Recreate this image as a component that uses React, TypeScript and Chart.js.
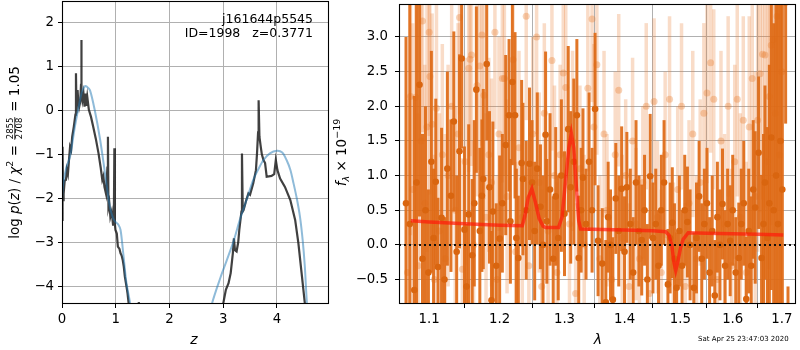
import React, { useEffect, useRef } from "react";
import { Chart, registerables } from "chart.js";
Chart.register(...registerables);

const FONT = '"DejaVu Sans", sans-serif';

// ---------- Left panel: log p(z) ----------
const pzZ = [
  0.0, 0.01, 0.02, 0.03, 0.05, 0.074, 0.09, 0.11, 0.13, 0.15,
  0.17, 0.19, 0.22, 0.25, 0.26, 0.27, 0.29, 0.30, 0.32, 0.34,
  0.355, 0.36, 0.365, 0.38, 0.40, 0.42, 0.44, 0.45, 0.47, 0.50,
  0.54, 0.58, 0.63, 0.68, 0.72, 0.75, 0.77, 0.79, 0.82, 0.845,
  0.855, 0.865, 0.88, 0.90, 0.925, 0.95, 0.965, 0.975, 0.985, 0.995,
  1.02, 1.04, 1.07, 1.09, 1.11, 1.13, 1.15, 1.17, 1.20, 1.22,
  1.24, 1.28, 1.40, 1.43, 1.46, 1.70, 2.50, 2.95, 3.00, 3.05,
  3.10, 3.14, 3.18, 3.20, 3.22, 3.25, 3.28, 3.30, 3.34, 3.35,
  3.365, 3.38, 3.43, 3.47, 3.50, 3.56, 3.61, 3.63, 3.65, 3.66,
  3.675, 3.70, 3.72, 3.75, 3.78, 3.81, 3.90, 3.95, 3.98, 4.01,
  4.06, 4.15, 4.25, 4.34, 4.40, 4.46, 4.52, 4.56, 4.97,
];
const pzLogP = [
  -2.49, -0.83, -2.04, -1.9, -1.6, -1.58, -1.35, -1.45, -1.13, -0.83,
  -0.9, -0.6, -0.37, -0.1, 0.84, -0.07, 0.46, 0.25, 0.08, 0.2,
  0.6, 1.6, 0.4, 0.23, 0.38, 0.08, 0.38, 0.1, 0.31, 0.01,
  -0.15, -0.37, -0.65, -0.98, -1.3, -1.58, -1.5, -1.74, -1.9, -1.3,
  -0.6, -2.19, -2.1, -2.42, -2.3, -2.6, -2.5, -0.86, -2.6, -2.72,
  -2.8, -3.1, -3.15, -3.25, -3.3, -3.4, -3.55, -3.78, -4.0, -4.16,
  -4.38, -5.0, -4.9, -4.36, -4.9, -6.5, -8.0, -5.0, -4.4, -4.08,
  -3.93, -3.7, -3.25, -2.91, -3.18, -3.21, -3.0, -2.72, -2.3, -0.98,
  -2.3, -2.27, -2.04, -1.89, -1.92, -1.66, -1.36, -0.98, -0.5, 0.23,
  -0.6, -0.83, -1.0, -1.13, -1.2, -1.51, -1.49, -1.45, -1.13, -1.36,
  -1.55, -1.74, -2.04, -2.49, -3.02, -3.7, -4.38, -4.9, -8.0,
];
const pzFitZ = [
  0.0, 0.02, 0.08, 0.15, 0.24, 0.335, 0.38, 0.43, 0.46, 0.52,
  0.61, 0.71, 0.80, 0.89, 0.95, 0.99, 1.05, 1.09, 1.14, 1.20,
  1.27, 1.35, 2.0, 2.6, 2.79, 2.95, 3.07, 3.2, 3.31, 3.44,
  3.56, 3.65, 3.75, 3.87, 4.0, 4.1, 4.18, 4.25, 4.31, 4.37,
  4.43, 4.48, 4.52, 4.56, 4.62, 4.97,
];
const pzFitLogP = [
  -2.0, -1.7, -1.3, -1.05, -0.37, 0.23, 0.45, 0.55, 0.54, 0.46,
  0.0, -0.67, -1.43, -2.19, -2.45, -2.53, -2.6, -2.72, -3.25, -3.93,
  -4.4, -5.2, -8.0, -5.4, -4.4, -3.8, -3.4, -2.95, -2.49, -2.02,
  -1.58, -1.35, -1.13, -0.98, -0.92, -0.96, -1.13, -1.35, -1.66, -2.0,
  -2.42, -2.95, -3.55, -4.4, -5.2, -8.0,
];
const zTicks = [0, 1, 2, 3, 4];
const logpTicks = [-4, -3, -2, -1, 0, 1, 2];
const zRange = [0, 4.97];
const logpRange = [-4.402, 2.484];

// ---------- Right panel: spectrum ----------
const specWave = [
  1.069, 1.074, 1.080, 1.083, 1.087, 1.091, 1.095, 1.099, 1.103, 1.106,
  1.109, 1.112, 1.117, 1.121, 1.125, 1.130, 1.134, 1.138, 1.142, 1.145,
  1.149, 1.152, 1.155, 1.160, 1.163, 1.166, 1.171, 1.174, 1.176, 1.181,
  1.185, 1.188, 1.190, 1.195, 1.200, 1.204, 1.209, 1.214, 1.216, 1.219,
  1.223, 1.225, 1.228, 1.233, 1.235, 1.240, 1.245, 1.249, 1.253, 1.257,
  1.262, 1.266, 1.270, 1.272, 1.277, 1.282, 1.286, 1.290, 1.295, 1.300,
  1.306, 1.310, 1.315, 1.320, 1.323, 1.327, 1.330, 1.335, 1.340, 1.345,
  1.350, 1.355, 1.362, 1.368, 1.372, 1.376, 1.380, 1.385, 1.390, 1.395,
  1.400, 1.404, 1.410, 1.415, 1.420, 1.425, 1.430, 1.435, 1.440, 1.445,
  1.450, 1.455, 1.460, 1.465, 1.470, 1.477, 1.481, 1.485, 1.489, 1.493,
  1.498, 1.503, 1.508, 1.513, 1.518, 1.525, 1.530, 1.535, 1.540, 1.545,
  1.550, 1.555, 1.560, 1.565, 1.570, 1.575, 1.580, 1.585, 1.590, 1.595,
  1.600, 1.606, 1.612, 1.617, 1.622, 1.627, 1.632, 1.637, 1.641, 1.645,
  1.652, 1.658, 1.662, 1.665, 1.670, 1.674, 1.678, 1.683, 1.688, 1.692,
  1.697, 1.701, 1.708, 1.713,
];
const specFlux = [
  0.6, 0.3, -0.65, 0.9, 2.31, -0.2, 0.5, -0.4, 1.2, 0.1,
  0.91, -0.32, 0.39, -0.5, 1.1, 0.71, 1.78, -0.1, 1.35, 2.69,
  0.22, -0.6, 0.44, -0.15, 0.6, 2.24, 0.2, 0.71, 0.95, 2.61,
  0.83, -0.8, 0.48, -0.3, 0.09, 0.6, 1.44, 1.87, 0.34, 2.35,
  1.87, 0.1, -0.19, 1.18, 0.95, 0.5, 1.17, 0.9, 0.2, 1.1,
  0.55, 0.0, 1.59, 0.34, 0.8, -0.2, 0.7, 0.1, 1.0, 0.45,
  1.67, 0.83, 1.2, 1.87, -0.19, 0.5, 0.97, 0.3, 1.2, 0.5,
  1.96, 0.06, -0.27, -0.83, 0.4, 0.0, -0.79, 0.67, 0.2, 0.81,
  -0.1, 0.83, 0.3, -0.4, 0.9, 0.2, 0.07, 0.5, -0.5, 0.99,
  0.1, 0.3, -0.3, 0.5, 0.9, -0.57, 0.1, 0.32, -0.2, -0.62,
  0.2, -0.3, 0.5, 0.33, 0.0, -0.62, 0.1, 0.7, -0.2, 0.3,
  0.6, -0.4, 0.2, -0.73, 0.4, 0.0, 0.59, -0.3, 0.3, 0.06,
  0.5, -0.4, -0.19, 0.3, 0.6, -0.78, 0.2, -0.3, 0.8, 0.54,
  1.33, -0.19, 0.3, 0.9, 0.1, 0.6, 1.55, 0.5, 1.0, 0.3,
  1.5, 0.8, 3.5, -1.5,
];
const specErr = [
  2.4, 3.3, 2.8, 3.2, 1.9, 1.8, 1.5, 1.2, 1.6, 1.0,
  1.2, 1.0, 1.3, 0.9, 1.4, 1.1, 1.3, 1.1, 1.4, 1.3,
  1.2, 0.9, 1.3, 1.1, 1.2, 1.2, 1.2, 1.1, 1.3, 1.1,
  1.1, 1.0, 1.3, 0.9, 1.2, 1.0, 1.3, 1.1, 0.9, 1.2,
  1.2, 1.0, 0.9, 1.2, 1.1, 1.0, 1.1, 0.9, 1.0, 1.1,
  0.9, 1.0, 1.2, 0.9, 1.1, 0.9, 1.0, 0.9, 1.1, 0.9,
  1.2, 1.1, 1.2, 1.1, 0.9, 0.9, 1.0, 0.8, 1.0, 0.9,
  1.1, 0.8, 0.8, 0.9, 0.8, 0.8, 0.9, 0.8, 0.8, 0.9,
  0.8, 0.8, 0.8, 0.8, 0.9, 0.8, 0.8, 0.8, 0.8, 0.9,
  0.8, 0.8, 0.8, 0.8, 0.9, 0.8, 0.8, 0.8, 0.8, 0.8,
  0.8, 0.8, 0.8, 0.8, 0.8, 0.8, 0.8, 0.8, 0.8, 0.8,
  0.8, 0.8, 0.8, 0.8, 0.8, 0.8, 0.8, 0.8, 0.8, 0.8,
  0.8, 0.8, 0.8, 0.8, 0.9, 0.9, 0.9, 1.0, 1.0, 1.1,
  1.1, 1.2, 1.3, 1.4, 1.6, 2.0, 2.2, 2.7, 3.2, 3.7,
  3.7, 3.7, 1.75, 0.9,
];
const altWave = [
  1.071, 1.075, 1.078, 1.082, 1.085, 1.089, 1.091, 1.094, 1.097, 1.100,
  1.101, 1.104, 1.107, 1.110, 1.114, 1.118, 1.122, 1.126, 1.131, 1.136,
  1.140, 1.142, 1.146, 1.150, 1.155, 1.157, 1.159, 1.162, 1.167, 1.171,
  1.174, 1.177, 1.180, 1.184, 1.188, 1.193, 1.196, 1.199, 1.204, 1.207,
  1.211, 1.220, 1.224, 1.229, 1.234, 1.240, 1.244, 1.250, 1.256, 1.260,
  1.264, 1.268, 1.274, 1.280, 1.284, 1.288, 1.293, 1.298, 1.302, 1.308,
  1.313, 1.318, 1.325, 1.332, 1.338, 1.345, 1.348, 1.353, 1.358, 1.365,
  1.370, 1.378, 1.384, 1.390, 1.396, 1.402, 1.408, 1.414, 1.420, 1.426,
  1.432, 1.438, 1.444, 1.452, 1.458, 1.465, 1.472, 1.480, 1.487, 1.495,
  1.502, 1.509, 1.516, 1.523, 1.530, 1.537, 1.544, 1.550, 1.557, 1.563,
  1.570, 1.577, 1.584, 1.591, 1.598, 1.604, 1.609, 1.615, 1.621, 1.627,
  1.633, 1.639, 1.645, 1.650, 1.655, 1.660, 1.665, 1.670, 1.674, 1.678,
  1.682, 1.686, 1.690, 1.695, 1.700,
];
const altFlux = [
  -0.4, 2.14, 0.8, 2.13, -0.3, 1.5, 3.23, 0.6, 1.7, 3.07,
  2.43, 1.74, -0.5, 1.97, 0.2, 1.3, -0.2, 1.0, 2.0, 0.5,
  1.6, 3.28, -0.35, 1.2, 2.55, 2.68, 2.74, 0.0, 2.3, 2.58,
  3.03, 2.16, 0.4, 1.3, 0.9, 3.07, -0.5, 1.6, 2.4, 2.4,
  0.7, 2.67, -0.1, 1.4, 0.4, 3.3, -0.3, 1.6, 3.0, 0.9,
  -0.6, 1.9, 0.2, 2.66, 1.0, -0.4, 1.3, 2.48, 2.27, 0.3,
  1.5, -0.7, 1.1, 0.0, 2.26, 3.26, 1.7, 2.6, -0.2, 1.6,
  0.5, -0.5, 1.3, 2.23, 0.1, 1.0, -0.6, 1.5, 0.3, -0.2,
  0.9, 2.0, -0.7, 2.07, 0.4, -0.4, 1.3, 2.1, -0.3, 0.8,
  2.0, -0.6, 0.6, 1.6, -0.2, 0.9, 1.9, 2.19, 2.63, 2.1,
  -0.5, 1.5, 0.3, 2.0, -0.3, 1.2, 2.1, 0.4, 1.8, -0.4,
  1.7, 2.4, 0.7, 1.8, 2.47, 2.75, 2.74, 1.2, 2.14, 2.88,
  2.96, 1.9, 3.3, 1.3, 2.5,
];
const altErr = [
  2.5, 2.0, 2.4, 1.8, 2.2, 2.0, 1.6, 2.0, 1.8, 1.5,
  1.7, 1.6, 1.8, 1.6, 1.7, 1.6, 1.8, 1.6, 1.7, 1.5,
  1.6, 1.4, 1.6, 1.5, 1.5, 1.4, 1.6, 1.5, 1.6, 1.5,
  1.6, 1.5, 1.5, 1.4, 1.5, 1.4, 1.5, 1.4, 1.5, 1.4,
  1.4, 1.5, 1.3, 1.4, 1.4, 1.5, 1.4, 1.4, 1.4, 1.3,
  1.4, 1.3, 1.4, 1.3, 1.3, 1.3, 1.3, 1.2, 1.3, 1.2,
  1.3, 1.3, 1.2, 1.3, 1.2, 1.2, 1.2, 1.3, 1.2, 1.2,
  1.1, 1.2, 1.2, 1.1, 1.2, 1.1, 1.2, 1.2, 1.1, 1.2,
  1.1, 1.2, 1.2, 1.2, 1.1, 1.2, 1.2, 1.2, 1.2, 1.2,
  1.2, 1.2, 1.2, 1.2, 1.2, 1.2, 1.3, 1.3, 1.3, 1.3,
  1.3, 1.3, 1.3, 1.3, 1.4, 1.4, 1.4, 1.5, 1.5, 1.6,
  1.6, 1.7, 1.8, 1.9, 2.0, 2.1, 2.2, 2.4, 2.5, 2.6,
  2.8, 3.0, 3.2, 3.3, 3.5,
];
const modelWave = [
  1.0755, 1.100, 1.150, 1.200, 1.234, 1.238, 1.243, 1.2487, 1.254, 1.260,
  1.266, 1.270, 1.2905, 1.296, 1.302, 1.307, 1.311, 1.315, 1.319, 1.323,
  1.326, 1.345, 1.400, 1.450, 1.473, 1.479, 1.484, 1.488, 1.4913, 1.495,
  1.500, 1.505, 1.5145, 1.550, 1.600, 1.650, 1.703,
];
const modelFlux = [
  0.347, 0.33, 0.305, 0.285, 0.276, 0.42, 0.68, 0.81, 0.62, 0.38,
  0.27, 0.25, 0.25, 0.40, 0.95, 1.40, 1.61, 1.40, 0.85, 0.35,
  0.23, 0.225, 0.215, 0.205, 0.19, 0.14, 0.0, -0.25, -0.37, -0.25,
  -0.05, 0.08, 0.176, 0.168, 0.16, 0.152, 0.143,
];
const zeroLevel = 0;
const waveTicks = [1.1, 1.2, 1.3, 1.4, 1.5, 1.6, 1.7];
const fluxTicks = [-0.5, 0, 0.5, 1, 1.5, 2, 2.5, 3];
const waveRange = [1.0598, 1.73];
const fluxRange = [-0.853, 3.476];

const dateText = "Sat Apr 25 23:47:03 2020";
const objName = "j161644p5545";
const objInfo = "ID=1998   z=0.3771";

// ---------- helpers ----------
type Seg =
  | { t: string; size: number; italic?: boolean; dy: number }
  | { num: string; den: string; size: number; numY: number; denY: number; barY: number };

const fnt = (size: number, italic?: boolean) => `${italic ? "italic " : ""}${size}px ${FONT}`;

function drawRich(ctx: CanvasRenderingContext2D, segs: Seg[], cx: number, cy: number, rot: number) {
  ctx.save();
  ctx.translate(cx, cy);
  if (rot) ctx.rotate(rot);
  ctx.fillStyle = "#000";
  ctx.textBaseline = "alphabetic";
  ctx.textAlign = "left";
  const widths = segs.map((s: any) => {
    if (s.num !== undefined) {
      ctx.font = fnt(s.size);
      return Math.max(ctx.measureText(s.num).width, ctx.measureText(s.den).width) + 3;
    }
    ctx.font = fnt(s.size, s.italic);
    return ctx.measureText(s.t).width;
  });
  const total = widths.reduce((a, b) => a + b, 0);
  let x = -total / 2;
  segs.forEach((s: any, i) => {
    if (s.num !== undefined) {
      const w = widths[i];
      ctx.font = fnt(s.size);
      ctx.textAlign = "center";
      ctx.fillText(s.num, x + w / 2, s.numY);
      ctx.fillText(s.den, x + w / 2, s.denY);
      ctx.fillRect(x + 1, s.barY - 0.4, w - 2, 0.8);
      ctx.textAlign = "left";
    } else {
      ctx.font = fnt(s.size, s.italic);
      ctx.fillText(s.t, x, s.dy);
    }
    x += widths[i];
  });
  ctx.restore();
}

function drawText(ctx: CanvasRenderingContext2D, t: string, x: number, y: number, font: string, align: CanvasTextAlign) {
  ctx.save();
  ctx.font = font;
  ctx.fillStyle = "#000";
  ctx.textAlign = align;
  ctx.textBaseline = "middle";
  ctx.fillText(t, x, y);
  ctx.restore();
}

const frame = (chart: any) => {
  const { ctx, chartArea: a } = chart;
  ctx.save();
  ctx.strokeStyle = "#000";
  ctx.lineWidth = 1.1;
  ctx.strokeRect(a.left + 0.5, a.top + 0.5, a.right - a.left - 1, a.bottom - a.top - 1);
  ctx.restore();
};

const minus = (v: number, d: number) => (v < 0 ? "\u2212" : "") + Math.abs(v).toFixed(d);

const gridOpts = { color: "#b0b0b0", lineWidth: 1, tickLength: 4, tickColor: "#000", tickWidth: 1 };
const tickFont = { family: FONT, size: 13.3 };

const fitX = (h: number) => (s: any) => {
  s.height = h;
  s.paddingLeft = 0;
  s.paddingRight = 0;
};
const fitY = (w: number) => (s: any) => {
  s.width = w;
  s.paddingTop = 0;
  s.paddingBottom = 0;
};

export default function App() {
  const leftRef = useRef<HTMLCanvasElement>(null);
  const rightRef = useRef<HTMLCanvasElement>(null);

  useEffect(() => {
    const leftPlugin = {
      id: "leftDeco",
      afterDraw(chart: any) {
        const ctx = chart.ctx;
        frame(chart);
        drawText(ctx, objName, 313, 20, fnt(12.5), "right");
        drawText(ctx, objInfo, 313, 34, fnt(12.5), "right");
        drawText(ctx, "z", 194, 340, fnt(14, true), "center");
        drawRich(
          ctx,
          [
            { t: "log ", size: 13.5, dy: 5 },
            { t: "p", size: 13.5, italic: true, dy: 5 },
            { t: "(", size: 13.5, dy: 5 },
            { t: "z", size: 13.5, italic: true, dy: 5 },
            { t: ") / ", size: 13.5, dy: 5 },
            { t: "\u03c7", size: 13.5, italic: true, dy: 5 },
            { t: "2", size: 9.5, dy: -1 },
            { t: " = ", size: 13.5, dy: 5 },
            { num: "2855", den: "2708", size: 8.5, numY: -1.2, denY: 8.2, barY: 0.8 },
            { t: " = 1.05", size: 13.5, dy: 5 },
          ],
          14,
          152.5,
          -Math.PI / 2
        );
      },
    };

    const left = new Chart(leftRef.current!, {
      type: "scatter",
      data: {
        datasets: [
          {
            data: pzFitZ.map((z, i) => ({ x: z, y: pzFitLogP[i] })),
            showLine: true,
            borderColor: "rgba(31,119,180,0.5)",
            borderWidth: 2,
            pointRadius: 0,
            tension: 0.3,
          },
          {
            data: pzZ.map((z, i) => ({ x: z, y: pzLogP[i] })),
            showLine: true,
            borderColor: "rgba(30,30,30,0.85)",
            borderWidth: 2.2,
            pointRadius: 0,
            tension: 0,
          },
        ],
      },
      options: {
        responsive: false,
        animation: false,
        events: [],
        layout: { padding: { left: 0, right: 1, top: 1, bottom: 0 } },
        plugins: { legend: { display: false }, tooltip: { enabled: false } },
        scales: {
          x: {
            type: "linear",
            min: zRange[0],
            max: zRange[1],
            afterBuildTicks: (s: any) => {
              s.ticks = zTicks.map((v) => ({ value: v }));
            },
            afterFit: fitX(46),
            ticks: { font: tickFont, color: "#000", padding: 4, maxRotation: 0, autoSkip: false, callback: (v: any) => String(v) },
            grid: gridOpts,
            border: { display: false },
          },
          y: {
            type: "linear",
            min: logpRange[0],
            max: logpRange[1],
            afterBuildTicks: (s: any) => {
              s.ticks = logpTicks.map((v) => ({ value: v }));
            },
            afterFit: fitY(62),
            ticks: { font: tickFont, color: "#000", padding: 4, autoSkip: false, callback: (v: any) => minus(Number(v), 0) },
            grid: gridOpts,
            border: { display: false },
          },
        },
      } as any,
      plugins: [leftPlugin],
    });

    const rightPlugin = {
      id: "rightDeco",
      afterDraw(chart: any) {
        const ctx = chart.ctx;
        frame(chart);
        drawText(ctx, "\u03bb", 268, 340, fnt(14, true), "center");
        drawText(ctx, dateText, 368, 339, fnt(7), "left");
        drawRich(
          ctx,
          [
            { t: "f", size: 13.5, italic: true, dy: 5 },
            { t: "\u03bb", size: 9.5, italic: true, dy: 8 },
            { t: " \u00d7 10", size: 13.5, dy: 5 },
            { t: "\u221219", size: 9.5, dy: -1 },
          ],
          11,
          152.5,
          -Math.PI / 2
        );
      },
    };

    const dark = "rgba(222,106,22,0.92)";
    const light = "rgba(232,125,50,0.27)";
    const right = new Chart(rightRef.current!, {
      type: "bar",
      data: {
        datasets: [
          {
            type: "line",
            data: [
              { x: waveRange[0], y: zeroLevel },
              { x: waveRange[1], y: zeroLevel },
            ],
            borderColor: "#111",
            borderWidth: 2,
            borderDash: [2, 3],
            pointRadius: 0,
          },
          {
            type: "line",
            data: modelWave.map((w, i) => ({ x: w, y: modelFlux[i] })),
            borderColor: "rgba(255,25,10,0.7)",
            borderWidth: 3.5,
            pointRadius: 0,
            tension: 0,
          },
          {
            type: "scatter",
            data: specWave.map((w, i) => ({ x: w, y: specFlux[i] })),
            backgroundColor: "#d9650f",
            borderWidth: 0,
            pointRadius: 3.3,
          },
          {
            type: "bar",
            stack: "err",
            data: specWave.map((w, i) => ({ x: w, y: [specFlux[i] - specErr[i], specFlux[i] + specErr[i]] })),
            backgroundColor: dark,
            barThickness: 3,
            borderWidth: 0,
            inflateAmount: 0,
          },
          {
            type: "scatter",
            data: altWave.map((w, i) => ({ x: w, y: altFlux[i] })),
            backgroundColor: "rgba(232,125,50,0.35)",
            borderWidth: 0,
            pointRadius: 3.5,
          },
          {
            type: "bar",
            stack: "err",
            data: altWave.map((w, i) => ({ x: w, y: [altFlux[i] - altErr[i], altFlux[i] + altErr[i]] })),
            backgroundColor: light,
            barThickness: 3.5,
            borderWidth: 0,
            inflateAmount: 0,
          },
        ],
      },
      options: {
        responsive: false,
        animation: false,
        events: [],
        layout: { padding: { left: 0, right: 1, top: 1, bottom: 0 } },
        plugins: { legend: { display: false }, tooltip: { enabled: false } },
        scales: {
          x: {
            type: "logarithmic",
            min: waveRange[0],
            max: waveRange[1],
            offset: false,
            stacked: true,
            afterBuildTicks: (s: any) => {
              s.ticks = waveTicks.map((v) => ({ value: v }));
            },
            afterFit: fitX(46),
            ticks: { font: tickFont, color: "#000", padding: 4, maxRotation: 0, autoSkip: false, major: { enabled: false }, callback: (v: any) => Number(v).toFixed(1) },
            grid: gridOpts,
            border: { display: false },
          },
          y: {
            type: "linear",
            stacked: false,
            min: fluxRange[0],
            max: fluxRange[1],
            afterBuildTicks: (s: any) => {
              s.ticks = fluxTicks.map((v) => ({ value: v }));
            },
            afterFit: fitY(69),
            ticks: { font: tickFont, color: "#000", padding: 7, autoSkip: false, callback: (v: any) => minus(Number(v), 1) },
            grid: gridOpts,
            border: { display: false },
          },
        },
      } as any,
      plugins: [rightPlugin],
    });

    return () => {
      left.destroy();
      right.destroy();
    };
  }, []);

  return (
    <div style={{ position: "fixed", left: 0, top: 0, width: 800, height: 350, background: "#fff", overflow: "hidden" }}>
      <canvas ref={leftRef} width={330} height={350} style={{ position: "absolute", left: 0, top: 0, width: 330, height: 350 }} />
      <canvas ref={rightRef} width={470} height={350} style={{ position: "absolute", left: 330, top: 0, width: 470, height: 350 }} />
    </div>
  );
}
